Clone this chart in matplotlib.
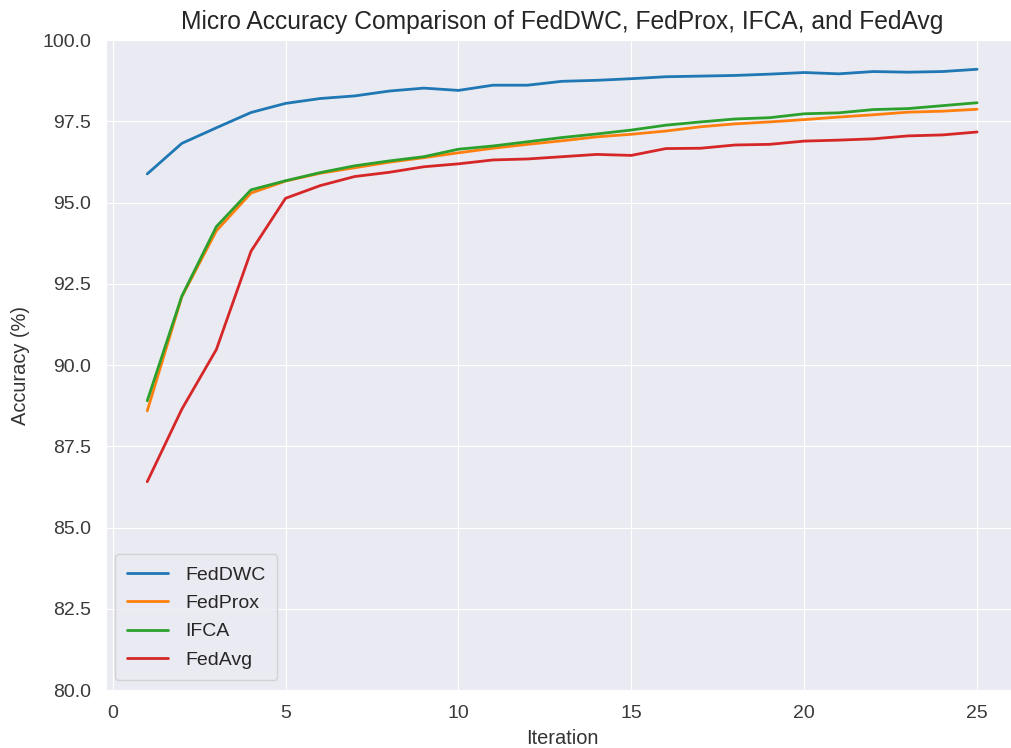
import numpy as np
import matplotlib
matplotlib.use("Agg")
import matplotlib.pyplot as plt
import seaborn as sns

iterations = list(range(1, 26))

feddwc = [95.88, 96.82, 97.30, 97.77, 98.05, 98.20, 98.28, 98.43, 98.52, 98.45,
          98.61, 98.61, 98.73, 98.76, 98.81, 98.87, 98.89, 98.91, 98.95, 99.00,
          98.96, 99.03, 99.01, 99.03, 99.10]
fedprox = [88.59, 92.10, 94.13, 95.29, 95.66, 95.90, 96.07, 96.24, 96.38, 96.53,
           96.67, 96.79, 96.90, 97.02, 97.10, 97.20, 97.33, 97.42, 97.48, 97.55,
           97.63, 97.70, 97.78, 97.81, 97.87]
ifca = [88.90, 92.12, 94.26, 95.39, 95.67, 95.92, 96.13, 96.28, 96.41, 96.64,
        96.74, 96.87, 97.00, 97.11, 97.23, 97.38, 97.48, 97.57, 97.61, 97.73,
        97.76, 97.86, 97.89, 97.98, 98.07]
fedavg = [86.41, 88.64, 90.48, 93.50, 95.13, 95.52, 95.80, 95.93, 96.10, 96.19,
          96.31, 96.34, 96.41, 96.48, 96.45, 96.66, 96.67, 96.77, 96.79, 96.89,
          96.92, 96.96, 97.05, 97.08, 97.17]

sns.set_style("darkgrid")
plt.rcParams["font.family"] = ["Liberation Sans", "DejaVu Sans"]

fig = plt.figure(figsize=(10.12, 7.48), dpi=100)
ax = fig.add_axes([0.1045, 0.0775, 0.902, 0.869])

ax.plot(iterations, feddwc, label="FedDWC", color="#1f77b4", lw=2)
ax.plot(iterations, fedprox, label="FedProx", color="#ff7f0e", lw=2)
ax.plot(iterations, ifca, label="IFCA", color="#2ca02c", lw=2)
ax.plot(iterations, fedavg, label="FedAvg", color="#d62728", lw=2)

ax.set_ylim(80, 100)
ax.set_xlim(-0.2, 26.2)
ax.set_xticks([0, 5, 10, 15, 20, 25])
ax.set_yticks(np.arange(80, 100.1, 2.5))
ax.yaxis.set_major_formatter(matplotlib.ticker.FormatStrFormatter("%.1f"))
ax.tick_params(labelsize=14, colors="#3a3a3a")
ax.tick_params(axis="y", pad=7)
ax.tick_params(axis="x", pad=7)

ax.set_title("Micro Accuracy Comparison of FedDWC, FedProx, IFCA, and FedAvg",
             fontsize=17.7, color="#262626", pad=8)
ax.set_xlabel("Iteration", fontsize=14.4, color="#333333", labelpad=5)
ax.set_ylabel("Accuracy (%)", fontsize=14.4, color="#333333", labelpad=9)
ax.legend(loc="lower left", fontsize=14, handlelength=2.1, handletextpad=0.9,
          borderpad=0.6, labelspacing=0.55)

fig.savefig("out.png", dpi=100)
